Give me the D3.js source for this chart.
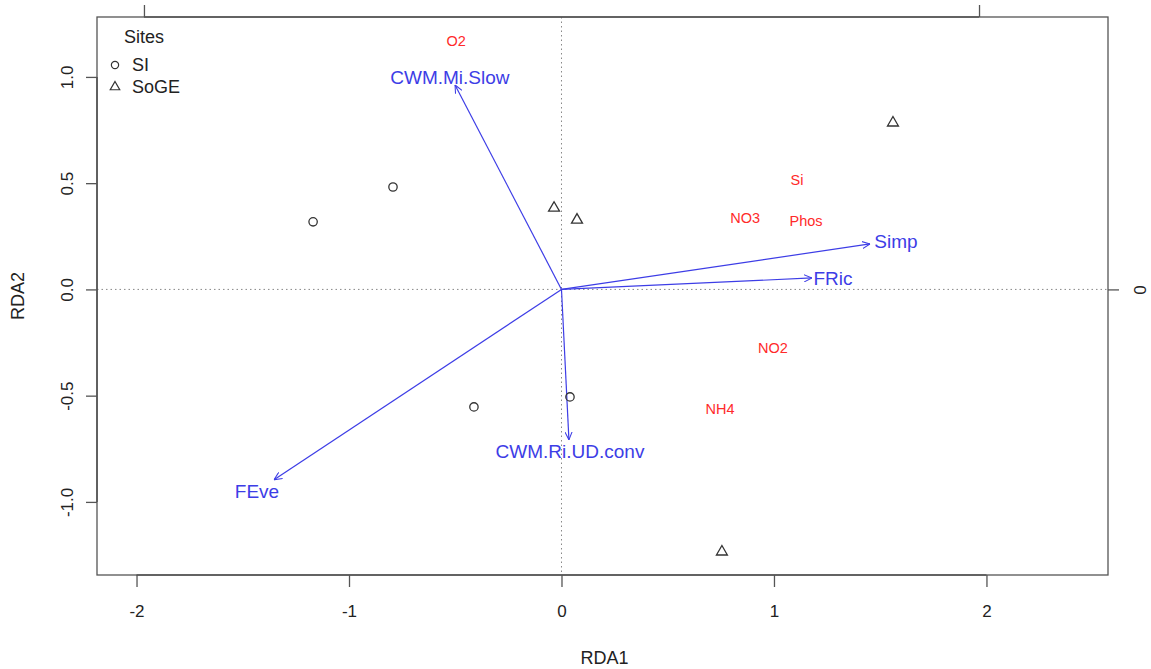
<!DOCTYPE html>
<html lang="en">
<head>
    <meta charset="UTF-8">
    <title>RDA biplot</title>
    <script src="https://d3js.org/d3.v7.min.js"></script>
    <style>
        body {margin: 0; background: white;}
        text {font-family: "Liberation Sans", Arial, sans-serif;}
    </style>
</head>
<body>
<script>
    // site scores
    const siteNames = ["SI", "SI", "SI", "SI", "SoGE", "SoGE", "SoGE", "SoGE"];
    const siteX = [-1.169, -0.793, -0.412, 0.040, -0.035, 0.073, 1.560, 0.755];
    const siteY = [0.318, 0.482, -0.553, -0.506, 0.383, 0.327, 0.784, -1.235];

    // biplot arrows (functional indices)
    const arrowNames = ["CWM.Mi.Slow", "Simp", "FRic", "FEve", "CWM.Ri.UD.conv"];
    const arrowX = [-0.501, 1.452, 1.179, -1.353, 0.035];
    const arrowY = [0.962, 0.214, 0.054, -0.896, -0.708];
    const arrowLabX = [-0.525, 1.574, 1.278, -1.433, 0.040];
    const arrowLabY = [1.000, 0.224, 0.054, -0.948, -0.760];

    // environmental variables (passive)
    const envNames = ["O2", "Si", "NO3", "Phos", "NO2", "NH4"];
    const envX = [-0.496, 1.108, 0.864, 1.151, 0.995, 0.746];
    const envY = [1.169, 0.515, 0.336, 0.322, -0.275, -0.562];

    const xTicks = [-2, -1, 0, 1, 2];
    const yTicks = [-1.0, -0.5, 0.0, 0.5, 1.0];
    const topTicks = [-1.965, 1.965];
    const rightTicks = [0];
    const legendGroups = ["SI", "SoGE"];

    const width = 1151, height = 669;
    const margin = {left: 97, right: 43, top: 17, bottom: 94};

    const svg = d3.select("body").append("svg")
        .attr("width", width).attr("height", height);

    const x = d3.scaleLinear().domain([-2.186, 2.572])
        .range([margin.left, width - margin.right]);
    const y = d3.scaleLinear().domain([-1.344, 1.282])
        .range([height - margin.bottom, margin.top]);

    const axisCol = "#555";
    const blue = "#3d3de6";
    const red = "#ff2a2a";
    // R style labels: plain hyphen for negatives
    const fmt = f => d => d3.format(f)(d).replace("\u2212", "-");

    // reference lines
    svg.append("line")
        .attr("x1", x(0)).attr("x2", x(0))
        .attr("y1", y.range()[1]).attr("y2", y.range()[0])
        .style("stroke", "#888").style("stroke-dasharray", "1.5,3");
    svg.append("line")
        .attr("x1", x.range()[0]).attr("x2", x.range()[1])
        .attr("y1", y(0)).attr("y2", y(0))
        .style("stroke", "#888").style("stroke-dasharray", "1.5,3");

    // frame
    svg.append("rect")
        .attr("x", x.range()[0]).attr("y", y.range()[1])
        .attr("width", x.range()[1] - x.range()[0])
        .attr("height", y.range()[0] - y.range()[1])
        .style("fill", "none").style("stroke", axisCol).style("stroke-width", 1.3);

    // axes
    const axBottom = svg.append("g")
        .attr("transform", `translate(0,${y.range()[0]})`)
        .call(d3.axisBottom(x).tickValues(xTicks).tickSize(12).tickPadding(18)
            .tickFormat(fmt("d")));
    const axLeft = svg.append("g")
        .attr("transform", `translate(${x.range()[0]},0)`)
        .call(d3.axisLeft(y).tickValues(yTicks).tickSize(11).tickFormat(fmt(".1f")));
    axLeft.selectAll(".tick text")
        .attr("transform", "rotate(-90)")
        .attr("x", 0).attr("y", -29)
        .style("text-anchor", "middle");
    const axTop = svg.append("g")
        .attr("transform", `translate(0,${y.range()[1]})`)
        .call(d3.axisTop(x).tickValues(topTicks).tickSize(12).tickFormat(""));
    const axRight = svg.append("g")
        .attr("transform", `translate(${x.range()[1]},0)`)
        .call(d3.axisRight(y).tickValues(rightTicks).tickSize(11).tickFormat(fmt("d")));
    axRight.selectAll(".tick text")
        .attr("transform", "rotate(90)")
        .attr("x", 0).attr("y", -31)
        .style("text-anchor", "middle");

    [axBottom, axLeft, axTop, axRight].forEach(g => {
        g.select(".domain").remove();
        g.selectAll("line").style("stroke", axisCol).style("stroke-width", 1.3);
        g.selectAll("text").style("font-size", "17px").style("fill", "#222")
            .style("font-family", "'Liberation Sans', Arial, sans-serif");
    });
    // darker axis lines spanning tick ranges
    svg.append("line").attr("x1", x(-2)).attr("x2", x(2))
        .attr("y1", y.range()[0]).attr("y2", y.range()[0])
        .style("stroke", axisCol).style("stroke-width", 1.6);
    svg.append("line").attr("x1", x.range()[0]).attr("x2", x.range()[0])
        .attr("y1", y(-1)).attr("y2", y(1))
        .style("stroke", axisCol).style("stroke-width", 1.6);
    svg.append("line").attr("x1", x(topTicks[0])).attr("x2", x(topTicks[1]))
        .attr("y1", y.range()[1]).attr("y2", y.range()[1])
        .style("stroke", axisCol).style("stroke-width", 1.6);

    // axis titles
    svg.append("text")
        .attr("x", (x.range()[0] + x.range()[1]) / 2 + 2).attr("y", 664)
        .style("text-anchor", "middle").style("font-size", "18px").style("fill", "#222")
        .text("RDA1");
    svg.append("text")
        .attr("transform", `translate(24,${(y.range()[0] + y.range()[1]) / 2}) rotate(-90)`)
        .style("text-anchor", "middle").style("font-size", "18px").style("fill", "#222")
        .text("RDA2");

    // arrows
    const defs = svg.append("defs");
    defs.append("marker")
        .attr("id", "head").attr("viewBox", "0 -5 10 10")
        .attr("refX", 10).attr("refY", 0)
        .attr("markerWidth", 8).attr("markerHeight", 8)
        .attr("markerUnits", "userSpaceOnUse")
        .attr("orient", "auto")
        .append("path").attr("d", "M0,-4.5L10,0L0,4.5")
        .style("fill", "none").style("stroke", blue).style("stroke-width", 1.3);

    const arrows = arrowNames.map((n, i) => ({
        name: n, x: arrowX[i], y: arrowY[i], lx: arrowLabX[i], ly: arrowLabY[i]
    }));
    svg.selectAll("line.arrow").data(arrows).enter()
        .append("line").attr("class", "arrow")
        .attr("x1", x(0)).attr("y1", y(0))
        .attr("x2", d => x(d.x)).attr("y2", d => y(d.y))
        .style("stroke", blue).style("stroke-width", 1.2)
        .attr("marker-end", "url(#head)");
    svg.selectAll("text.arrowlab").data(arrows).enter()
        .append("text").attr("class", "arrowlab")
        .attr("x", d => x(d.lx)).attr("y", d => y(d.ly))
        .attr("dy", "0.35em")
        .style("text-anchor", "middle").style("font-size", "19px").style("fill", blue)
        .text(d => d.name);

    // environmental labels
    const env = envNames.map((n, i) => ({name: n, x: envX[i], y: envY[i]}));
    svg.selectAll("text.env").data(env).enter()
        .append("text").attr("class", "env")
        .attr("x", d => x(d.x)).attr("y", d => y(d.y))
        .attr("dy", "0.35em")
        .style("text-anchor", "middle").style("font-size", "14.5px").style("fill", red)
        .text(d => d.name);

    // site points
    const symbol = d3.scaleOrdinal().domain(legendGroups)
        .range([d3.symbolCircle, d3.symbolTriangle]);
    const symSize = d3.scaleOrdinal().domain(legendGroups).range([55, 52]);
    const sites = siteNames.map((n, i) => ({site: n, x: siteX[i], y: siteY[i]}));
    svg.selectAll("path.site").data(sites).enter()
        .append("path").attr("class", "site")
        .attr("transform", d => `translate(${x(d.x)},${y(d.y)})`)
        .attr("d", d => d3.symbol(symbol(d.site), symSize(d.site))())
        .style("fill", "none").style("stroke", "#333").style("stroke-width", 1.3);

    // legend
    const legend = svg.append("g").attr("transform", "translate(115,37)");
    legend.append("text").attr("x", 9).attr("y", 0).attr("dy", "0.35em")
        .style("font-size", "18px").style("fill", "#222").text("Sites");
    const items = legend.selectAll("g.item").data(legendGroups).enter()
        .append("g").attr("class", "item")
        .attr("transform", (d, i) => `translate(0,${28 + i * 22})`);
    items.append("path")
        .attr("d", d => d3.symbol(symbol(d), symSize(d) * 0.75)())
        .style("fill", "none").style("stroke", "#333").style("stroke-width", 1.2);
    items.append("text").attr("x", 17).attr("dy", "0.35em")
        .style("font-size", "18px").style("fill", "#222").text(d => d);
</script>
</body>
</html>
